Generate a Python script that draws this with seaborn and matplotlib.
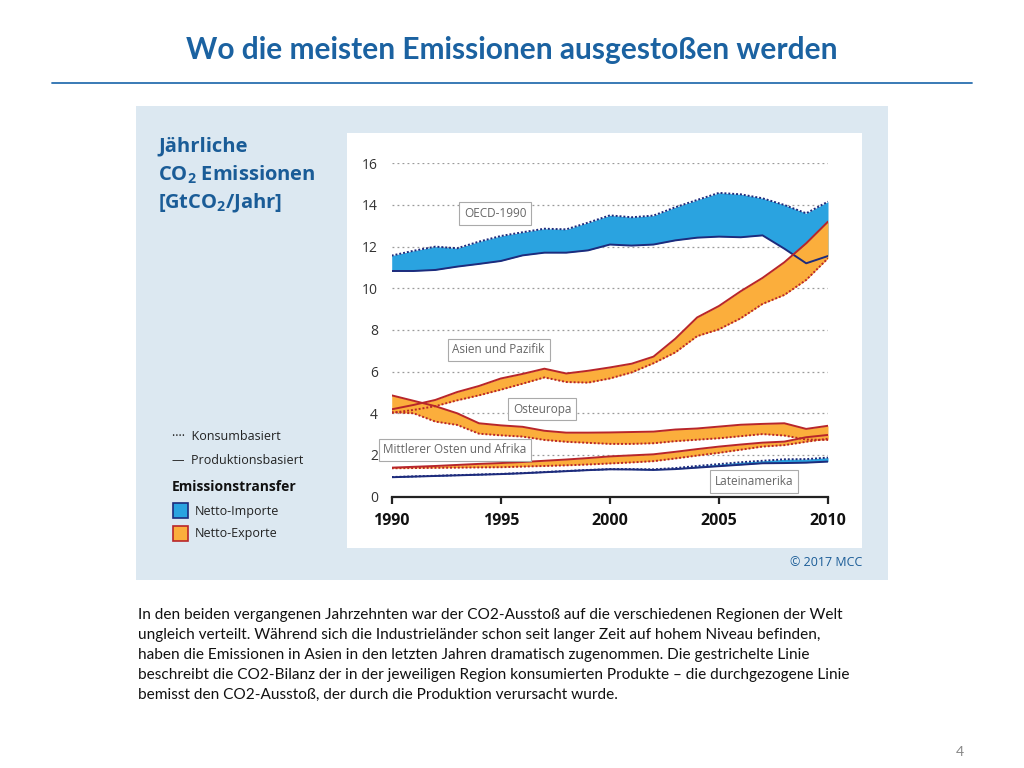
import numpy as np
import pandas as pd
import matplotlib.pyplot as plt
import seaborn as sns
from matplotlib.patches import Rectangle

years = list(range(1990, 2011))

# production-based (solid) and consumption-based (dotted), GtCO2 per year
oecd_prod = [10.83, 10.83, 10.88, 11.04, 11.17, 11.31, 11.58, 11.71, 11.71, 11.82, 12.1,
             12.05, 12.1, 12.3, 12.43, 12.48, 12.45, 12.54, 11.9, 11.2, 11.55]
oecd_cons = [11.57, 11.8, 12.0, 11.92, 12.24, 12.51, 12.69, 12.86, 12.83, 13.15, 13.5,
             13.41, 13.49, 13.89, 14.24, 14.58, 14.51, 14.32, 14.0, 13.6, 14.16]
asia_prod = [4.19, 4.4, 4.64, 5.02, 5.31, 5.67, 5.89, 6.14, 5.91, 6.04, 6.2,
             6.38, 6.72, 7.58, 8.6, 9.15, 9.86, 10.5, 11.25, 12.16, 13.2]
asia_cons = [4.02, 4.16, 4.34, 4.62, 4.86, 5.13, 5.42, 5.72, 5.5, 5.47, 5.67,
             5.96, 6.4, 6.92, 7.7, 8.03, 8.56, 9.25, 9.68, 10.4, 11.44]
oe_prod = [4.86, 4.6, 4.34, 4.0, 3.52, 3.42, 3.35, 3.16, 3.07, 3.07, 3.08,
           3.1, 3.12, 3.22, 3.27, 3.36, 3.45, 3.49, 3.52, 3.25, 3.4]
oe_cons = [4.05, 4.0, 3.6, 3.44, 3.02, 2.94, 2.88, 2.72, 2.63, 2.58, 2.53,
           2.53, 2.56, 2.66, 2.73, 2.8, 2.9, 3.0, 2.93, 2.74, 2.72]
me_prod = [1.39, 1.43, 1.47, 1.52, 1.57, 1.61, 1.66, 1.72, 1.78, 1.85, 1.93,
           1.98, 2.03, 2.15, 2.28, 2.4, 2.5, 2.59, 2.64, 2.85, 2.96]
me_cons = [1.36, 1.37, 1.38, 1.39, 1.4, 1.41, 1.44, 1.47, 1.5, 1.54, 1.59,
           1.64, 1.7, 1.83, 1.97, 2.1, 2.25, 2.4, 2.47, 2.63, 2.78]
la_prod = [0.93, 0.96, 0.99, 1.02, 1.05, 1.08, 1.12, 1.17, 1.22, 1.27, 1.31,
           1.3, 1.28, 1.32, 1.39, 1.46, 1.53, 1.6, 1.61, 1.63, 1.68]
la_cons = [0.94, 0.97, 1.0, 1.03, 1.06, 1.09, 1.13, 1.18, 1.23, 1.28, 1.32,
           1.32, 1.31, 1.37, 1.47, 1.56, 1.65, 1.72, 1.79, 1.8, 1.87]

regions = {
    "OECD-1990": (oecd_prod, oecd_cons),
    "Asien und Pazifik": (asia_prod, asia_cons),
    "Osteuropa": (oe_prod, oe_cons),
    "Mittlerer Osten und Afrika": (me_prod, me_cons),
    "Lateinamerika": (la_prod, la_cons),
}
# label box positions (year, value)
label_pos = {
    "OECD-1990": (1994.75, 13.6),
    "Asien und Pazifik": (1994.9, 7.05),
    "Osteuropa": (1996.9, 4.2),
    "Mittlerer Osten und Afrika": (1992.9, 2.25),
    "Lateinamerika": (2006.6, 0.72),
}
y_ticks = [0, 2, 4, 6, 8, 10, 12, 14, 16]
x_ticks = [1990, 1995, 2000, 2005, 2010]

BLUE_FILL = "#2aa3e0"
ORANGE_FILL = "#fbae3c"
RED = "#b8262a"
NAVY = "#1d2b7c"
HEAD = "#1a5c97"

sns.set_theme(style="white")
plt.rcParams["font.family"] = ["Open Sans", "DejaVu Sans"]
plt.rcParams["mathtext.fontset"] = "custom"
plt.rcParams["mathtext.bf"] = "Open Sans:bold"
plt.rcParams["mathtext.rm"] = "Open Sans"

fig = plt.figure(figsize=(10.24, 7.68), dpi=100)
fig.patch.set_facecolor("white")

W, H = 1024, 768


def fx(px):
    return px / W


def fy(py):
    return 1 - py / H


# panel backgrounds
fig.patches.append(Rectangle((fx(136), fy(580)), fx(888) - fx(136), fy(106) - fy(580),
                             transform=fig.transFigure, facecolor="#dce8f1", edgecolor="none", zorder=-2))
fig.patches.append(Rectangle((fx(347), fy(548)), fx(862) - fx(347), fy(133) - fy(548),
                             transform=fig.transFigure, facecolor="white", edgecolor="none", zorder=-1))

# title + rule
fig.text(0.5, fy(50), "Wo die meisten Emissionen ausgestoßen werden", ha="center", va="center",
         fontsize=21.5, fontweight="bold", color="#1b62a1", family=["Lato", "DejaVu Sans"])
fig.add_artist(plt.Line2D([fx(52), fx(972)], [fy(83), fy(83)], color="#2a6fb0", lw=1.3,
                          transform=fig.transFigure))

ax = fig.add_axes([fx(391.7), fy(496.6), fx(828) - fx(391.7), fy(163.3) - fy(496.6)])
ax.set_facecolor("none")
ax.set_zorder(3)

for name, (prod, cons) in regions.items():
    df = pd.DataFrame({"Jahr": years, "prod": prod, "cons": cons})
    p = np.array(prod)
    c = np.array(cons)
    ax.fill_between(years, p, c, where=c >= p, interpolate=True, color=BLUE_FILL, lw=0, zorder=2)
    ax.fill_between(years, p, c, where=c < p, interpolate=True, color=ORANGE_FILL, lw=0, zorder=2)
    col = NAVY if c.mean() >= p.mean() else RED
    sns.lineplot(data=df, x="Jahr", y="prod", ax=ax, color=col, lw=1.4, zorder=4)
    sns.lineplot(data=df, x="Jahr", y="cons", ax=ax, color=col, lw=1.4, zorder=4,
                 linestyle=(0, (1, 1)))
    lx, ly = label_pos[name]
    ax.text(lx, ly, name, ha="center", va="center", fontsize=8.5, color="#666666", zorder=6,
            bbox=dict(boxstyle="square,pad=0.4", facecolor="white", edgecolor="#aaaaaa", lw=0.8))

for yv in y_ticks[1:]:
    ax.axhline(yv, color="#9a9a9a", lw=0.9, linestyle=(0, (1.5, 2.5)), zorder=1)

ax.set_xlim(1990, 2010)
ax.set_ylim(0, 16)
ax.set_xticks(x_ticks)
ax.set_yticks(y_ticks)
ax.set_xlabel("")
ax.set_ylabel("")
for s in ["top", "right", "left"]:
    ax.spines[s].set_visible(False)
ax.spines["bottom"].set_color("#222222")
ax.spines["bottom"].set_linewidth(1.6)
ax.tick_params(axis="x", direction="out", length=5, width=1.6, color="#222222", pad=7,
               labelsize=11.5, bottom=True)
ax.tick_params(axis="y", length=0, pad=10, labelsize=10, labelcolor="#333333")
for t in ax.get_xticklabels():
    t.set_fontweight("bold")
    t.set_color("#111111")

# left header
fig.text(fx(158), fy(146), "Jährliche", fontsize=14.5, fontweight="bold", color=HEAD, va="center")
fig.text(fx(158), fy(175), r"CO$_\mathbf{2}$ Emissionen", fontsize=14.5, fontweight="bold",
         color=HEAD, va="center")
fig.text(fx(158), fy(203), r"[GtCO$_\mathbf{2}$/Jahr]", fontsize=14.5, fontweight="bold",
         color=HEAD, va="center")

# legend
fig.text(fx(172), fy(437), "····  Konsumbasiert", fontsize=9, color="#222222", va="center")
fig.text(fx(172), fy(460), "—  Produktionsbasiert", fontsize=9, color="#222222", va="center")
fig.text(fx(172), fy(487), "Emissionstransfer", fontsize=10, fontweight="bold", color="#111111",
         va="center")
fig.patches.append(Rectangle((fx(173), fy(518)), fx(15), fx(15) * W / H, transform=fig.transFigure,
                             facecolor=BLUE_FILL, edgecolor=NAVY, lw=1.2, zorder=1))
fig.patches.append(Rectangle((fx(173), fy(541)), fx(15), fx(15) * W / H, transform=fig.transFigure,
                             facecolor=ORANGE_FILL, edgecolor=RED, lw=1.2, zorder=1))
fig.text(fx(195), fy(511), "Netto-Importe", fontsize=9, color="#222222", va="center")
fig.text(fx(195), fy(534), "Netto-Exporte", fontsize=9, color="#222222", va="center")
fig.text(fx(862), fy(563), "© 2017 MCC", fontsize=9, color=HEAD, ha="right", va="center")

body = ("In den beiden vergangenen Jahrzehnten war der CO2-Ausstoß auf die verschiedenen Regionen der Welt\n"
        "ungleich verteilt. Während sich die Industrieländer schon seit langer Zeit auf hohem Niveau befinden,\n"
        "haben die Emissionen in Asien in den letzten Jahren dramatisch zugenommen. Die gestrichelte Linie\n"
        "beschreibt die CO2-Bilanz der in der jeweiligen Region konsumierten Produkte – die durchgezogene Linie\n"
        "bemisst den CO2-Ausstoß, der durch die Produktion verursacht wurde.")
fig.text(fx(138), fy(608), body, fontsize=11.1, color="#111111", va="top", ha="left",
         linespacing=1.55, family=["Lato", "DejaVu Sans"])
fig.text(fx(960), fy(752), "4", fontsize=10, color="#888888", ha="center", va="center",
         family=["Lato", "DejaVu Sans"])

fig.savefig("out.png", dpi=100)
